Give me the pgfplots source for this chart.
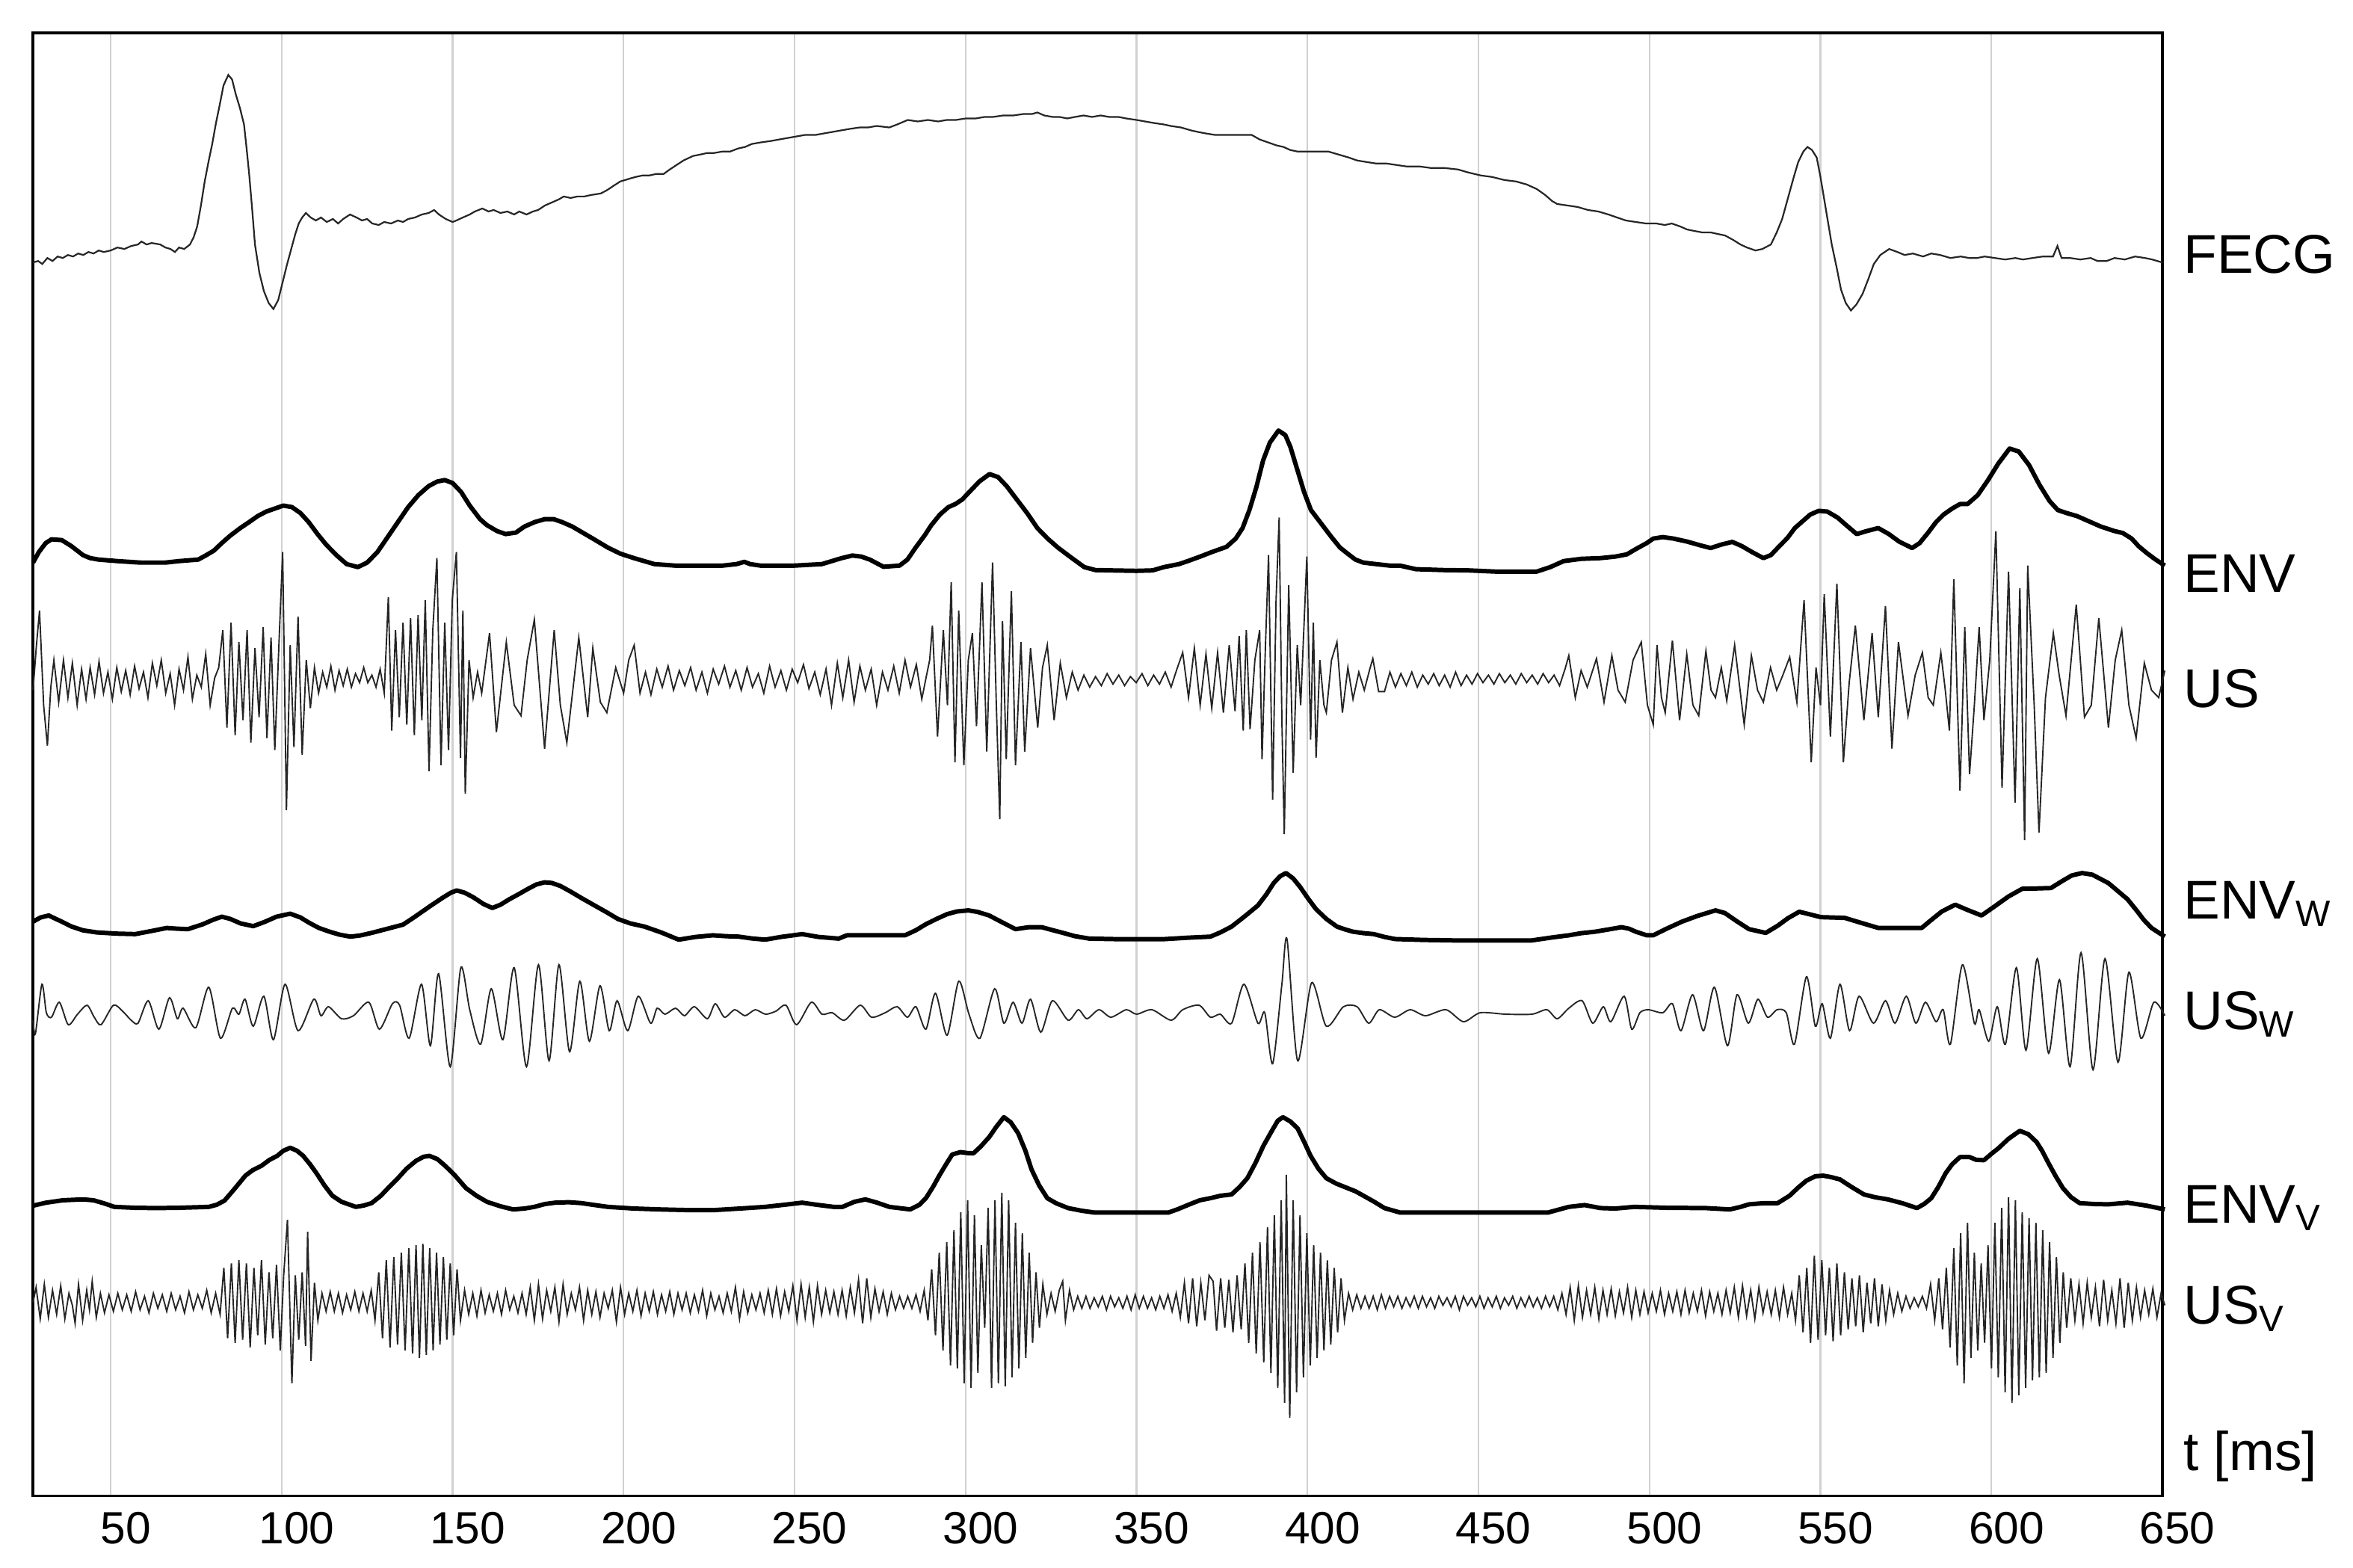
\documentclass[border=0pt]{standalone}
\usepackage{fontspec}
\setmainfont{Liberation Sans}
\usepackage{pgfplots}
\pgfplotsset{compat=1.18}
\begin{document}
\begin{tikzpicture}
\useasboundingbox (-7.02pt,-15.3pt) rectangle (493.0pt,317.9pt);
\begin{axis}[
 at={(0,0)}, anchor=south west, scale only axis,
 width=452.5pt, height=310.9pt,
 xmin=27.3, xmax=650, ymin=22, ymax=997, y dir=reverse,
 xtick={50,100,...,650}, ytick=\empty,
 xmajorgrids, grid style={line width=0.35pt, black!18},
 major tick length=0pt,
 axis line style={line width=0.6pt, black},
 xticklabel style={font=\fontsize{9.6}{11}\selectfont, xshift=3.2pt},
 /pgf/number format/assume math mode=true,
 clip=false,
]
% FECG
\addplot[black!85, line width=0.35pt] coordinates {
(27.3,175)(28.8,174)(30,176)(31.5,172)(33,174)(34.5,171)(36,172)(37.5,170)(39,171)(40.5,169)(42,170)(43.5,168)(45,169)(46.5,167)(48,168)(50,167)(52,165)(54,166)(56,164)(58,163)(59,161)(60.5,163)(62,162)(64.5,163)(66,165)(67.5,166)(68.8,168)(70,165)(71.5,166)(73.2,163)(74.3,158)(75.3,151)(76.4,137)(77.5,121)(78.6,108)(79.7,96)(80.8,82)(81.8,71)(83,57)(84.4,50)(85.5,53)(86.6,63)(87.8,72)(89,83)(89.8,100)(90.5,116)(91.4,140)(92.2,163)(93.5,182)(94.8,194)(96.2,202)(97.6,206)(99,200)(100.2,189)(101.5,177)(102.8,166)(104,156)(105,149)(106,145)(107.1,142)(108.5,145)(110,147)(111.5,145)(113.2,148)(115,146)(116.5,149)(118,146)(120,143)(121.9,145)(123.5,147)(125,146)(126.5,149)(128.4,150)(130,148)(132,149)(134,147)(135.5,148)(137,146)(139,145)(141,143)(143,142)(144.6,140)(146,143)(148,146)(150,148)(151.1,147)(153,145)(155,143)(156.5,141)(158.7,139)(160.5,141)(162,140)(164,142)(166,141)(168,143)(169.5,141)(171.6,143)(173.5,141)(175,140)(177,137)(179,135)(181,133)(182.5,131)(184.5,132)(186.5,131)(188.5,131)(190.5,130)(193.3,129)(195,127)(197,124)(199,121)(200.5,120)(201.9,119)(203.5,118)(205.5,117)(207.5,117)(209.5,116)(211.7,116)(213.5,113)(215.5,110)(217.5,107)(220.3,104)(222.5,103)(224.5,102)(226.5,102)(229,101)(231.2,101)(233.5,99)(235.5,98)(237.5,96)(240,95)(243.1,94)(245.5,93)(248,92)(250.5,91)(253,90)(256.1,90)(258.5,89)(261,88)(263.5,87)(266,86)(269,85)(271.5,85)(274,84)(277.7,85)(280,83)(283.1,80)(286,81)(289,80)(292,81)(294.5,80)(297.2,80)(300,79)(303,79)(305.5,78)(308,78)(311,77)(314,77)(317,76)(319.5,76)(321,75)(323,77)(325.5,78)(327.5,78)(329.7,79)(332,78)(334.5,77)(337,78)(339.5,77)(342,78)(344.8,78)(347,79)(350,80)(352.5,81)(355,82)(358,83)(360,84)(363,85)(366,87)(368,88)(370.3,89)(373,90)(376,90)(379,90)(381,90)(383.7,90)(386,93)(388.5,95)(391,97)(393,98)(394.9,100)(397,101)(400,101)(403,101)(406,101)(409,103)(412,105)(414.5,107)(417.2,108)(420,109)(423,109)(426,110)(429,111)(432.8,111)(436,112)(440,112)(444,113)(447,115)(450.7,117)(454,118)(457.5,120)(461,121)(464.1,123)(467,126)(469.5,130)(471.5,134)(473,136)(476,137)(479,138)(482,140)(485,141)(488,143)(490.5,145)(493.1,147)(496,148)(499,149)(502,149)(504.5,150)(506.5,149)(509,151)(511,153)(513.2,154)(515.5,155)(518,155)(520,156)(522.1,157)(524.5,160)(526.6,163)(528.5,165)(531,167)(533,166)(535.5,163)(537.2,155)(538.8,146)(540.5,132)(542.2,118)(543.5,108)(545,101)(546.2,98)(547.5,100)(548.9,105)(550,118)(551.1,133)(552.2,148)(553.3,163)(554.7,178)(556,193)(557.4,202)(558.9,207)(560.5,203)(562.3,196)(564,186)(565.6,176)(567.5,170)(570.1,166)(572.5,168)(574.6,170)(577,169)(580,171)(582.4,169)(585,170)(588,172)(591,171)(593.5,172)(595.8,172)(598,171)(601,172)(604,173)(607,172)(609.2,173)(612,172)(615,171)(618,171)(619.3,164)(620.5,172)(623,172)(626,173)(629,172)(631,174)(633.7,174)(636,172)(639,173)(642,171)(644.9,172)(647,173)(650,175)
};
% ENV
\addplot[black, line width=0.95pt, line join=round] coordinates {
(27.3,375)(29,368)(31,362)(32.7,359.5)(35.7,360)(38.5,364)(41.9,370)(44,372)(46.5,373)(52,374)(58.7,375)(63,375)(66,375)(70,374)(75.6,373)(78,370)(80.2,367)(82.5,362)(85,357)(87.9,352)(90.5,348)(93,344)(95.5,341)(98,339)(100.5,337)(103,338)(105.5,342)(107.9,348)(110.5,356)(113,363)(116,370)(119,376)(122.3,378)(125,375)(128,368)(131,358)(134,348)(137,338)(140,330)(143,324)(145.5,321)(147.7,320)(150,322)(152.5,328)(155,337)(158,346)(160,350)(163,354)(165.5,356)(168.5,355)(171,351)(174,348)(177,346)(179.5,346)(182,348)(185,351)(188,355)(191,359)(195.4,365)(199,369)(203,372)(209,376)(215,377)(222,377)(229,377)(233,376)(235.3,374.5)(237,376)(240,377)(250,377)(258,376)(263.8,372)(266.9,370.3)(269.5,371)(272,373)(276,377.8)(280.7,377)(283,373)(285.4,365)(288,357)(290,350)(292.5,343)(295,338)(297,336)(299,333)(301.5,327)(304,321)(307,316)(309.5,318)(312,324)(315,333)(318,342)(321,352)(324,359)(327,365)(330.5,371)(334.7,378)(338,380)(342.4,380.2)(350,380.5)(354.7,380.2)(358,378)(362.4,376)(365,374)(368.6,371)(372,368)(376.3,364.5)(379,359)(381,352)(383,340)(385,325)(387,307)(389,295)(391.5,287)(393.5,290)(395,298)(397,313)(399,328)(401,340)(404,349)(407,358)(409.5,365)(411.7,369)(414,373)(416.3,375)(420,376)(424,377)(427,377)(431.7,379.4)(440,380)(447,380.2)(455,381)(467,381)(471,378)(474.9,374)(480,372.5)(485.7,372)(490,371)(493.4,369.5)(496,366)(499.2,362)(501.1,359)(503.9,358)(507,359)(511,361)(515,363.6)(517.9,365.3)(521,363)(524.2,361.2)(527,364)(530,368)(533.3,372)(535.5,370)(538,364)(540.3,358.7)(542.5,352)(544.5,348)(547,343)(549.5,340.5)(552,341)(555,345)(557.5,350)(560.6,356)(563.5,354)(566.9,352)(570,356)(573,361)(576.8,365.3)(579,362)(581.5,355)(583.8,348)(586,343)(588.5,339)(590.8,336)(593,336)(596,330)(599,320)(602,309)(605.3,299)(608,301)(611,310)(614,323)(617,334)(619.4,340)(622,342)(625,344)(628,347)(632,351)(636,354)(638.4,355.3)(641,359)(643,364)(645.4,368.6)(648,373)(650.7,377)
};
% US
\addplot[black!85, line width=0.3pt] coordinates {
(27.3,460)(28.3,430)(29.2,407)(30.4,470)(31.5,497)(32.5,458)(33.4,440)(34.8,468)(36.2,440)(37.5,465)(38.8,442)(40.2,470)(41.5,446)(42.8,466)(44.0,445)(45.3,463)(46.6,441)(47.9,462)(49.2,448)(50.5,466)(51.8,445)(53.1,461)(54.4,447)(55.7,463)(57.0,444)(58.3,459)(59.6,448)(60.9,465)(62.2,442)(63.5,457)(64.8,440)(66.1,462)(67.4,449)(68.7,470)(70.0,446)(71.3,460)(72.6,438)(73.9,466)(75.2,450)(76.5,458)(77.8,436)(79.1,470)(80.4,452)(81.6,445)
(82.8,420)(84.0,485)(85.2,415)(86.4,490)(87.5,428)(88.7,480)(89.9,420)(91.0,495)(92.2,432)(93.4,478)(94.6,418)(95.7,492)(96.9,425)(98.0,500)(99.2,430)(100.3,368)(101.4,540)(102.5,430)(103.6,498)(104.8,411)(106.0,503)(107.2,440)(108.4,472)
(109.6,445)(110.8,462)(112.0,448)(113.2,458)(114.4,444)(115.6,460)(116.8,447)(118.0,457)(119.2,446)(120.4,458)(121.6,449)(122.8,455)(124.0,445)
(125.2,455)(126.4,450)(127.6,458)(128.8,446)(130.0,462)(131.2,398)(132.2,487)(133.3,420)(134.4,478)(135.5,415)(136.6,483)(137.7,412)(138.8,490)(139.9,410)(141.0,480)(142.0,400)(143.1,514)(144.2,420)(145.4,372)(146.6,510)(147.7,415)(148.8,500)(149.9,400)(151.1,368)(152.3,505)(153.0,407)(153.7,529)(154.8,440)
(156.0,465)(157.3,448)(158.5,462)(160.8,422)(162.8,488)(165.7,428)(168.0,470)(170.0,477)(171.8,440)(173.9,413)(176.9,499)(179.7,420)(181.5,470)(183.4,495)(186.9,425)(189.5,478)(191.0,432)(193.2,468)(195.1,475)(197.7,445)(200.0,462)
(201.5,440)(203.1,430)(204.8,462)(206.4,448)(208.0,463)(209.7,446)(211.3,458)(213.0,444)(214.6,460)(216.3,447)(217.9,457)(219.6,445)(221.2,460)(222.9,448)(224.5,462)(226.2,446)(227.8,456)(229.5,444)(231.1,458)(232.8,447)(234.4,460)(236.1,445)(237.7,458)(239.4,449)(241.0,462)(242.7,444)(244.3,458)(246.0,447)(247.6,460)(249.3,446)(250.9,455)(252.6,443)(254.2,459)(255.9,448)(257.5,463)(259.2,446)(260.8,470)(262.5,442)(264.1,465)(265.8,440)(267.4,468)(269.1,444)(270.7,460)(272.4,446)(274.0,470)(275.7,448)(277.3,460)(279.0,444)(280.6,462)(282.3,440)(283.9,458)(285.6,443)(287.2,466)(288.6,450)
(289.5,440)(290.3,417)(291.8,491)(293.5,420)(294.7,470)(295.8,388)(296.9,508)(298.0,407)(299.5,510)(300.8,440)(302.0,422)(303.2,484)(304.8,388)(306.2,501)(307.9,375)(309.0,470)(310.0,546)(310.8,414)(311.9,506)(313.4,394)(314.6,510)(316.2,428)(317.3,501)(319.0,432)(321.1,485)(322.5,445)(323.9,430)(325.9,480)(327.7,442)
(329.5,465)(331.2,448)(332.9,460)(334.6,450)(336.3,458)(338.0,451)(339.7,457)(341.4,449)(343.1,456)(344.8,450)(346.5,457)(348.2,451)(349.9,455)(351.6,449)(353.3,457)(355.0,450)(356.7,456)(358.4,448)(360.1,458)(361.8,446)
(363.5,435)(365.2,465)(366.9,432)(368.6,470)(370.3,436)(372.0,472)(373.7,435)(375.4,475)(377.1,430)(378.8,474)(380.0,424)(381.2,487)
(382.1,420)(383.2,486)(384.6,440)(386.0,420)(386.7,506)(387.7,430)(388.6,370)(389.8,533)(390.8,400)(391.7,345)(392.5,480)(393.2,556)(394.5,390)(395.8,515)(397.0,430)(398.0,470)(399.8,371)(400.9,493)(401.7,415)(402.5,505)(403.6,440)(404.8,470)(405.5,475)(407.0,440)(408.6,428)(410.2,475)(411.8,445)(413.3,466)(415.0,448)
(416.6,460)(418.2,446)(419.1,439)(420.8,461)(422.5,461)(424.1,448)(425.7,458)(427.3,449)(428.9,457)(430.5,448)(432.1,458)(433.7,450)(435.3,456)(436.9,449)(438.5,457)(440.1,450)(441.7,458)(443.3,448)(444.9,457)(446.5,450)(448.1,456)(449.7,449)(451.3,455)(452.9,450)(454.5,456)(456.1,449)(457.7,455)(459.3,450)(460.9,456)(462.5,449)(464.1,455)(465.7,450)(467.3,456)(468.9,449)(470.5,455)(472.1,450)(473.7,457)(475.3,446)
(476.4,437)(478.3,465)(480.0,447)(481.8,458)(484.5,439)(486.7,468)(489.0,437)(490.8,460)(492.9,468)(495.2,440)(497.6,428)(499.4,470)(501.1,483)(502.2,430)(503.5,465)(504.6,475)(506.7,427)(508.8,480)(510.9,436)(512.7,470)(514.4,477)(516.5,434)(518.0,460)(519.3,465)(521.0,445)(522.6,467)(524.9,430)(527.7,483)(529.8,437)(531.6,460)(533.3,468)(535.4,445)(537.2,460)(539.0,450)(541.0,438)(543.1,468)
(545.2,400)(547.3,508)(548.7,445)(550.0,470)(551.1,396)(552.9,491)(554.8,389)(556.7,508)(558.4,455)(560.2,417)(562.7,480)(565.1,422)(566.9,478)(569.0,404)(570.9,499)(572.8,428)(575.6,477)(577.7,450)(579.8,435)(581.5,465)(583.0,470)(585.2,435)
(586.5,460)(587.7,487)(589.0,386)(590.8,527)(592.2,418)(593.6,516)(595.0,470)(596.4,418)(597.8,480)(599.5,440)(601.3,354)(603.1,525)(605.0,381)(606.9,535)(608.3,392)(609.7,560)(610.6,377)(612.5,470)(613.9,555)(615.8,465)(618.1,422)(619.8,450)(621.8,477)(624.8,403)(627.2,478)(629.2,470)(631.4,412)(634.2,485)(636.2,440)(638.1,420)(640.2,470)(642.3,492)(644.7,442)(646.8,460)(648.9,465)(650.7,447)
};
% ENV_W
\addplot[black, line width=0.95pt, line join=round] coordinates {
(27.3,614.3)(29.5,611.5)(31.9,610.2)(34,612.5)(35.7,614.3)(38.5,617.5)(41.9,620.1)(46,621.5)(52,622.3)(57.2,622.6)(62,620.5)(66.4,618.5)(69.5,619)(72.6,619.3)(77,616)(80,613)(82.5,611)(85,612.5)(88,615.5)(91.7,617.3)(95,614.5)(98.5,611)(102.5,609)(105.5,611.5)(108,615)(110.9,618.5)(114,621)(117,623)(120.1,624.3)(123,623.5)(126.3,621.8)(131,619)(135.5,616.3)(139,611)(143.2,604.3)(147,598.5)(149.5,595)(151.2,593.5)(153.5,595)(156,598)(159,602.5)(161.6,605.2)(164,603)(166.5,599.5)(169.3,596)(172,592.5)(174.5,589.5)(176.9,588.1)(179,588.5)(181.5,590.5)(184.6,594.4)(188,599)(191.5,603.5)(195,608)(198.4,612.6)(202,615.5)(206.1,617.6)(211,621.5)(216.1,626.3)(221,624.5)(226.1,623.4)(230,624)(233.7,624.3)(237.5,625.5)(241.4,626.3)(246,624.5)(252.2,622.6)(257,624.5)(262.9,625.6)(265.3,623.4)(270,623.4)(276,623.4)(282.3,623.4)(285.5,620)(288.4,616)(291.5,612.5)(294.6,609.3)(297.5,607.5)(300.8,606.8)(303.5,607.8)(306.9,610.2)(310.5,614.5)(314.6,619.3)(318.5,618)(322.3,618)(325.5,620)(328.5,621.8)(332,624)(336.2,625.6)(345,626)(357.8,626)(365,625)(371.6,624.3)(374.5,621.5)(377.8,617.6)(381.5,611)(385.5,603.5)(388,596)(390.1,588.6)(392,584)(393.7,581.9)(395.8,585.5)(397.8,591.1)(400.2,599)(402.5,606)(405.5,612.5)(408.6,617.6)(411,619.5)(413.3,621)(416.5,622)(419.4,622.6)(422.5,624.5)(425.6,625.9)(434,626.5)(442.5,626.8)(455,626.8)(465.6,626.8)(471,625)(476.4,623.4)(480,622)(484.1,621)(488,619.5)(491.8,618)(494,619)(496,621)(499.2,623.4)(501.1,623.4)(505,619)(509.5,614.3)(514,610.5)(519.3,606.8)(522,608.5)(525.5,614)(529.1,619.3)(534,621.8)(537.5,617)(540.5,612)(543.8,607.7)(547,609.5)(550.1,611.3)(557.1,611.8)(561,614.5)(566.9,618.5)(573,618.5)(579.6,618.5)(582.5,613)(585.5,607.5)(589.4,603)(593,606.5)(597.1,610.2)(601,604)(605,597.5)(609,592.4)(613,592.2)(617.4,591.9)(620.5,587.5)(623.5,583.5)(626.5,581.9)(629.5,583)(634.2,588.6)(637,594)(639.8,599.4)(642.5,607)(644.5,613)(646.8,618.5)(650.7,624.3)
};
% US_W
\addplot[black!85, line width=0.3pt, smooth, tension=0.45] coordinates {
(27.3,680)(28.0,689)(29.9,656)(31.2,675)(32.7,678)(35.0,668)(37.6,683)(40.3,676)(43.1,670)(45.2,678)(47.2,683)(50.8,670)(53.5,674)(56.0,680)(58.0,682)(61.0,667)(64.1,686)(67.2,665)(69.5,679)(71.2,672)(74.9,685)(78.7,658)(82.1,692)(85.6,672)(87.5,676)(89.3,666)(91.7,684)(94.8,664)(97.6,693)(101.0,656)(104.8,687)(109.4,666)(111.5,677)(113.7,671)(117.5,679)(121.0,677)(125.5,668)(128.6,686)(132.4,669)(134.5,670)(137.3,692)(140.9,656)(143.5,697)(145.9,649)(149.3,711)(152.4,645)(155.0,673)(158.2,696)(161.3,659)(164.7,693)(168.0,645)(171.6,711)(175.1,643)(178.2,707)(181.1,643)(184.2,701)(187.2,654)(190.0,694)(193.1,657)(195.8,687)(198.1,667)(201.2,687)(204.3,664)(207.9,682)(209.8,672)(212.1,676)(215.2,672)(217.8,677)(220.7,671)(224.5,679)(226.8,669)(229.5,678)(232.5,673)(235.5,677)(238.5,673)(241.5,676)(244.5,674)(247.5,670)(250.6,683)(254.9,668)(258,676)(261,675)(264.6,680)(269.2,670)(272.5,678)(276.5,675)(280.0,671)(283.0,678)(285.5,671)(288.4,686)(291.2,662)(294.6,690)(298.0,654)(301.0,676)(304.2,692)(308.5,659)(311.2,682)(313.9,668)(316.5,682)(319.0,666)(322.0,688)(325.4,667)(330.0,680)(333.0,673)(335.5,679)(339.0,673)(342.5,678)(347.0,673)(350.0,676)(354.5,673)(360.1,680)(363.5,673)(368.3,670)(371.6,678)(374.5,676)(377.8,682)(381.4,656)(385.5,682)(387.5,675)(389.8,709)(392.5,656)(394.0,626)(397.1,707)(401.2,655)(405.5,684)(410.5,671)(414.5,671)(417.9,682)(421.0,673)(425.5,678)(430.0,673)(434.5,677)(440.5,673)(445.6,681)(450.5,675)(458.0,676)(465.6,676)(470.0,673)(473.0,679)(476.4,672)(480.3,667)(483.4,682)(486.5,671)(488.7,681)(492.6,664)(494.8,686)(497.2,675)(499.7,673)(503.9,675)(506.7,669)(509.2,687)(512.6,663)(515.8,687)(519.0,658)(522.8,697)(525.6,663)(528.9,682)(531.7,666)(534.5,678)(537.3,673)(540.0,675)(542.4,696)(545.9,651)(548.5,684)(550.5,669)(552.9,692)(555.7,656)(558.5,687)(561.3,664)(565.5,682)(569.0,667)(571.8,682)(575.1,664)(577.9,682)(580.7,668)(583.8,681)(585.9,673)(588.0,696)(591.5,643)(595.0,682)(596.4,673)(599.2,694)(601.7,671)(604.1,696)(607.3,645)(610.1,700)(613.4,639)(616.7,702)(619.9,653)(623.0,711)(626.2,635)(629.7,713)(633.2,639)(637.0,708)(640.2,648)(643.7,692)(647.5,668)(650.7,677)
};
% ENV_V
\addplot[black, line width=0.95pt, line join=round] coordinates {
(27.3,803.6)(31.1,801.6)(36,800)(41.9,799.4)(45,800)(48,802)(51.1,804.4)(57,805)(63.4,805.2)(70,805)(78.7,804.4)(81,803)(83.3,800.2)(86,793)(89.4,783.6)(91.5,780)(94.1,777)(96.5,773)(98.7,770.4)(100.5,767)(102.5,765)(104.5,767)(106.3,770.4)(108.3,776)(110.2,782)(112.5,790)(114.8,796.9)(117.5,801)(121.7,804.4)(124,803.5)(126.3,801.9)(129,797)(131.5,791)(134,785.3)(136.5,779)(139.3,773.7)(141.5,771)(143.2,770.4)(145.5,772.5)(147.8,777)(150.5,783)(153.9,791.9)(157,797)(160.1,801.1)(164,804)(167.7,806.1)(171,805.5)(173.9,804.4)(177,802.5)(180,801.6)(184,801.3)(187.7,801.9)(191,803)(195.4,804.4)(203,805.5)(210.7,806.1)(218,806.5)(226.1,806.6)(234,805.5)(241.4,804.4)(247,803)(252.2,801.6)(256.5,803)(261.4,804.4)(264,804.4)(267.5,801)(270.7,799.4)(274,801.5)(277.7,804.4)(283.8,806.1)(286.5,803)(288.4,798.6)(290.5,791)(292.3,783.6)(294.3,776)(296.1,769.5)(298.5,767.9)(300.5,768.5)(302.3,768.7)(304.5,764)(306.9,757.9)(309,751)(311.2,744.6)(313.2,748)(315.4,755.4)(317.5,767)(319.3,779.5)(321.5,790)(323.9,798.6)(326.5,802)(330,805.2)(334,807)(337.8,808.2)(350,808.2)(359.3,808.2)(362,806)(365.5,802.7)(368.5,800)(371.6,798.6)(374.5,797)(377.8,796.1)(380.2,791)(382.4,785.3)(384.8,775)(387.1,763.7)(389.5,754)(391.3,747)(392.8,744.6)(395,747.5)(397.1,752.1)(399,761)(400.9,770.4)(403.2,779)(405.5,785.3)(408.5,789)(411.7,791.9)(414,794)(416.3,796.9)(419.5,801)(422.5,805.2)(427.1,808.2)(440,808.2)(455,808.2)(470.3,808.2)(473,806.5)(476.4,804.4)(481,803.2)(485.7,805.2)(490,805.5)(495.5,804.4)(505,805)(516.5,805.2)(523.5,806.1)(526.5,804.5)(529.1,802.7)(533,802)(537.5,801.9)(541,796.9)(543.5,791.5)(545.9,786.9)(548.5,784)(550.8,783.6)(553,784.5)(555.7,786.1)(559,791)(562.7,796.1)(566,798)(569.7,799.4)(574,802)(578.2,805.2)(580.3,802.5)(582.4,798.6)(584.5,791)(586.6,782)(588.5,776)(590.8,771.2)(593.6,771.2)(595.5,773)(597.8,773.3)(600,769)(602,765.4)(605,759)(608.3,753.7)(610.8,756)(613.2,761.2)(614.8,767)(616.7,775.3)(618.8,784)(620.9,791.9)(623.3,798)(625.8,801.9)(630,802.5)(634.2,802.7)(639.8,801.6)(645.4,803.6)(650.7,806.1)
};
% US_V
\addplot[black!85, line width=0.3pt] coordinates {
(27.3,868)(28.2,858)(29.4,879)(30.6,856)(31.8,878)(33.0,860)(34.2,876)(35.4,857)(36.6,879)(37.8,862)(38.8,870)(39.6,882)(40.6,856)(41.8,880)(43.0,860)(43.8,873)(44.6,854)(45.8,878)(47.0,862)(48.2,875)
(49.5,863)(50.8,874)(52.1,862)(53.4,873)(54.7,863)(56.0,874)(57.3,861)(58.6,873)(59.9,864)(61.2,875)(62.5,862)(63.8,872)(65.1,863)(66.4,874)(67.7,862)(69.0,873)(70.3,864)(71.6,875)(72.9,861)(74.2,873)(75.5,863)(76.8,872)(78.1,860)(79.4,875)(80.7,862)(82.0,876)
(83.1,845)(84.2,892)(85.3,842)(86.4,895)(87.5,840)(88.6,893)(89.7,842)(90.8,898)(91.9,845)(93.0,890)(94.1,840)(95.2,896)(96.3,848)(97.4,892)(98.5,843)(99.6,900)(100.6,850)(101.7,813)(103.0,922)(104.0,850)(105.0,893)(106.0,848)(107.0,897)(107.6,821)(108.6,907)(109.6,855)(110.6,880)
(111.8,862)(113.0,874)(114.2,861)(115.4,874)(116.6,862)(117.8,875)(119.0,863)(120.2,873)(121.4,861)(122.6,874)(123.8,862)(125.0,874)(126.2,860)
(127.3,880)(128.4,848)(129.5,892)(130.6,840)(131.7,898)(132.8,838)(133.9,896)(135.0,835)(136.1,900)(137.2,832)(138.3,902)(139.3,830)(140.3,905)(141.3,829)(142.3,903)(143.3,832)(144.3,900)(145.3,835)(146.3,896)(147.3,838)(148.3,893)(149.3,842)(150.3,890)(151.3,846)(152.3,880)
(153.5,860)(154.7,876)(155.9,862)(157.1,877)(158.3,860)(159.5,875)(160.7,863)(161.9,874)(163.1,862)(164.3,876)(165.5,860)(166.7,873)(167.9,864)(169.1,875)(170.3,862)(171.5,876)(172.7,858)(173.9,880)(175.1,856)(176.3,879)(177.5,860)(178.7,874)(179.9,858)(181.1,881)(182.3,856)(183.5,876)(184.7,862)(185.9,873)(187.1,858)(188.3,880)(189.5,860)(190.7,876)(191.9,861)(193.1,878)(194.3,862)(195.5,872)(196.7,860)(197.9,881)(199.1,858)(200.3,876)(201.5,862)(202.7,874)(203.9,860)(205.1,877)(206.3,862)(207.5,874)(208.7,861)(209.9,876)(211.1,863)(212.3,874)(213.5,861)(214.7,876)(215.9,862)(217.1,873)(218.3,862)(219.5,875)(220.7,863)(221.9,874)(223.1,860)(224.3,877)(225.5,862)(226.7,873)(227.9,864)(229.1,875)(230.3,862)(231.5,874)(232.7,858)(233.9,879)(235.1,861)(236.3,875)(237.5,863)(238.7,873)(239.9,862)(241.1,875)(242.3,860)(243.5,876)(244.7,859)(245.9,877)(247.1,861)(248.3,874)(249.5,857)(250.7,880)
(251.9,856)(253.1,878)(254.3,858)(255.5,881)(256.7,857)(257.9,876)(259.1,860)(260.3,875)(261.5,861)(262.7,876)(263.9,860)(265.1,877)(266.3,858)(267.5,875)(268.7,853)(269.9,882)(271.1,852)(272.3,878)(273.5,859)(274.7,874)(275.9,861)(277.1,876)(278.3,862)(279.5,873)(280.7,864)(281.9,872)(283.1,864)(284.3,872)(285.5,863)(286.7,874)(287.9,860)
(289.0,880)(290.1,846)(291.2,890)(292.3,835)(293.4,900)(294.5,828)(295.6,910)(296.6,820)(297.6,912)(298.6,808)(299.6,922)(300.6,800)(301.6,925)(302.6,810)(303.6,915)(304.6,830)(305.6,885)(306.6,805)(307.6,925)(308.6,800)(309.6,922)(310.6,795)(311.6,924)(312.6,800)(313.6,918)(314.6,815)(315.6,912)(316.6,822)(317.6,905)(318.6,835)(319.6,895)(320.6,848)(321.6,885)(322.6,856)
(323.8,876)(325.0,862)(326.2,874)(327.4,860)(328.4,854)(329.2,880)(330.4,860)(331.6,873)(332.8,864)(334.0,872)(335.2,864)(336.4,872)(337.6,865)(338.8,871)(340.0,864)(341.2,873)(342.4,864)(343.6,871)(344.8,865)(346.0,872)(347.2,864)(348.4,873)(349.6,863)(350.8,872)(352.0,864)(353.2,872)(354.4,865)(355.6,873)(356.8,864)(358.0,872)(359.2,863)(360.4,874)(361.6,862)
(362.8,878)(364.0,855)(365.2,882)(366.4,852)(367.6,884)(368.8,855)(370.0,880)(371.2,850)(372.4,854)(373.4,887)(374.6,852)(375.8,885)(377.0,853)(378.2,888)(379.4,850)(380.6,886)
(381.7,842)(382.8,895)(383.9,835)(385.0,902)(386.1,828)(387.2,908)(388.3,818)(389.3,915)(390.3,810)(391.3,925)(392.3,800)(393.3,935)(393.8,783)(394.8,945)(395.8,800)(396.8,928)(397.8,810)(398.8,918)(399.8,822)(400.8,910)(401.8,830)(402.8,905)(403.8,835)(404.8,900)(405.8,840)(406.8,896)(407.8,845)(408.8,888)(409.8,852)(410.8,880)
(412.0,862)(413.2,873)(414.4,863)(415.6,872)(416.8,864)(418.0,872)(419.2,864)(420.4,873)(421.6,863)(422.8,872)(424.0,864)(425.2,871)(426.4,864)(427.6,872)(428.8,865)(430.0,871)(431.2,864)(432.4,872)(433.6,864)(434.8,871)(436.0,865)(437.2,872)(438.4,864)(439.6,870)(440.8,865)(442.0,871)(443.2,864)(444.4,873)(445.6,864)(446.8,870)(448.0,865)(449.2,871)(450.4,864)(451.6,872)(452.8,865)(454.0,871)(455.2,864)(456.4,872)(457.6,865)(458.8,870)(460.0,864)(461.2,872)(462.4,865)(463.6,871)(464.8,864)(466.0,871)(467.2,865)(468.4,872)(469.6,864)(470.8,871)(472.0,864)(473.2,873)(474.4,862)(475.6,876)
(476.8,858)(478.0,880)(479.2,857)(480.4,878)(481.6,860)(482.8,876)(484.0,858)(485.2,879)(486.4,860)(487.6,876)(488.8,859)(490.0,877)(491.2,861)(492.4,875)(493.6,858)(494.8,878)(496.0,860)(497.2,876)(498.4,861)(499.6,875)
(500.8,862)(502.0,874)(503.2,860)(504.4,876)(505.6,862)(506.8,874)(508.0,861)(509.2,876)(510.4,860)(511.6,875)(512.8,862)(514.0,874)(515.2,860)(516.4,877)(517.6,861)(518.8,874)(520.0,862)(521.2,876)(522.4,860)(523.6,875)(524.8,858)(526.0,878)(527.2,857)(528.4,877)(529.6,860)(530.8,879)(532.0,858)(533.2,875)(534.4,861)(535.6,876)(536.8,860)(538.0,878)(539.2,858)(540.4,876)(541.6,862)
(542.7,880)(543.8,850)(544.9,888)(546.0,845)(547.1,895)(548.2,837)(549.3,893)(550.4,840)(551.5,890)(552.6,845)(553.7,894)(554.8,842)(555.9,890)(557.0,848)(558.1,886)(559.2,852)(560.3,884)(561.4,850)(562.5,888)(563.6,855)(564.7,882)(565.8,852)(566.9,884)(568.0,856)(569.1,880)(570.2,860)
(571.4,876)(572.6,862)(573.8,874)(575.0,864)(576.2,872)(577.4,865)(578.6,871)(579.8,864)(581.0,872)(582.2,856)(583.4,880)(584.6,852)
(585.7,886)(586.8,845)(587.9,898)(589.0,832)(590.0,910)(591.0,822)(592.0,922)(593.0,815)(594.0,905)(595.0,835)(596.0,900)(597.0,842)(598.0,895)(599.0,830)(600.0,912)(601.0,815)(602.0,918)(603.0,805)(604.0,928)(605.0,798)(606.0,935)(607.0,800)(608.0,930)(609.0,808)(610.0,925)(611.0,812)(612.0,920)(613.0,815)(614.0,918)(615.0,820)(616.0,915)(617.0,828)(618.0,905)(619.0,838)(620.0,895)(621.0,848)(622.0,885)
(623.2,852)(624.4,880)(625.6,856)(626.8,882)(628.0,855)(629.2,878)(630.4,858)(631.6,884)(632.8,853)(634.0,880)(635.2,860)(636.4,882)(637.6,852)(638.8,885)(640.0,855)(641.2,880)(642.4,858)(643.6,878)(644.8,860)(646.0,876)(647.2,859)(648.4,878)(649.6,862)(650.7,870)
};
% labels
\begin{scope}[every node/.style={anchor=base west, inner sep=0pt, font=\fontsize{11.6}{13}\selectfont, xshift=4.3pt}]
\node at (axis cs:650,182) {FECG};
\node at (axis cs:650,395) {ENV};
\node at (axis cs:650,471.6) {US};
\node at (axis cs:650,612.6) {ENV\raisebox{-1.6pt}{\fontsize{7.8}{8}\selectfont W}};
\node at (axis cs:650,686) {US\raisebox{-1.6pt}{\fontsize{7.8}{8}\selectfont W}};
\node at (axis cs:650,815) {ENV\raisebox{-1.6pt}{\fontsize{7.8}{8}\selectfont V}};
\node at (axis cs:650,882.6) {US\raisebox{-1.6pt}{\fontsize{7.8}{8}\selectfont V}};
\node at (axis cs:650,980) {t [ms]};
\end{scope}
\end{axis}
\end{tikzpicture}
\end{document}
